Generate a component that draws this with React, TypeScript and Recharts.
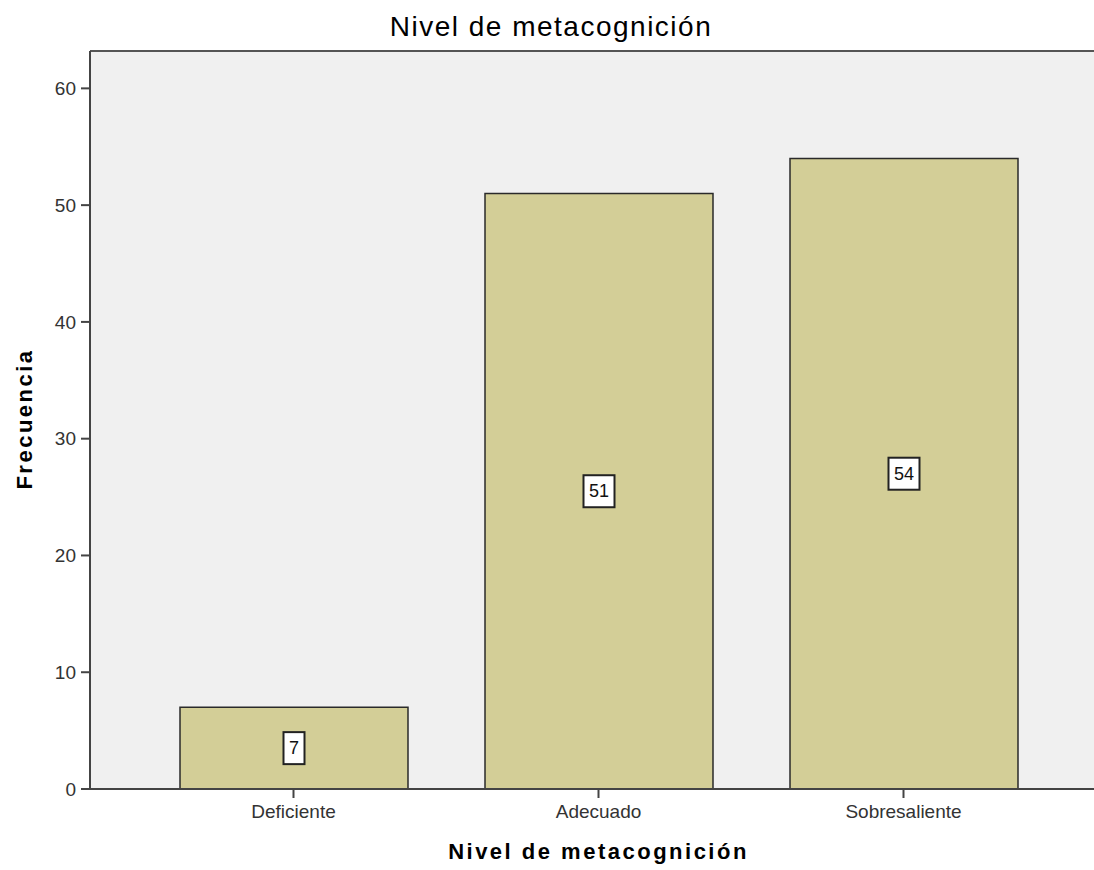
import { BarChart, Bar, XAxis, YAxis, CartesianGrid, LabelList, ReferenceLine } from "recharts"

const niveles = ["Deficiente", "Adecuado", "Sobresaliente"]
const frecuencias = [7, 51, 54]
const yTicks = [0, 10, 20, 30, 40, 50, 60]
const yMax = 63.2

const data = niveles.map((nivel, i) => ({ nivel, frecuencia: frecuencias[i] }))

const font = "Arial, 'Liberation Sans', sans-serif"
const axisColor = "#444"

// white boxed value label in the middle of each bar (SPSS style)
function ValueBox(props: any) {
  const { x, y, width, height, value } = props
  const cx = x + width / 2
  const cy = y + height / 2
  const w = String(value).length * 10 + 11
  const h = 32
  return (
    <g>
      <rect x={cx - w / 2} y={cy - h / 2} width={w} height={h} fill="#fff" stroke="#222" strokeWidth={2} />
      <text x={cx} y={cy} textAnchor="middle" dominantBaseline="central" fontSize={18} fontFamily={font} fill="#111">
        {value}
      </text>
    </g>
  )
}

function YTitle(p: any) {
  const vb = p.viewBox
  const cx = vb.x + 32
  const cy = vb.y + vb.height / 2 - 1
  return (
    <text x={cx} y={cy} transform={`rotate(-90 ${cx} ${cy})`} textAnchor="middle" fontSize={22} fontWeight="bold"
      letterSpacing={2.5} fontFamily={font} fill="#000">
      Frecuencia
    </text>
  )
}

function XTitle(p: any) {
  const vb = p.viewBox
  return (
    <text x={vb.x + vb.width / 2} y={vb.y + 70} textAnchor="middle" fontSize={22} fontWeight="bold"
      letterSpacing={2.5} fontFamily={font} fill="#000">
      Nivel de metacognición
    </text>
  )
}

export default function App() {
  return (
    <div style={{ position: "absolute", left: 0, top: 0, width: 1094, height: 870, overflow: "hidden", background: "#fff" }}>
      <div style={{
        position: "absolute", left: 0, top: 13, width: 1102, textAlign: "center",
        fontFamily: font, fontSize: 28, lineHeight: "28px", letterSpacing: 1.5, color: "#000",
      }}>
        Nivel de metacognición
      </div>
      <BarChart width={1120} height={870} data={data} margin={{ top: 51, right: 13, bottom: 0, left: 0 }}>
        <CartesianGrid fill="#f0f0f0" fillOpacity={1} horizontal={false} vertical={false} />
        <ReferenceLine y={yMax} stroke="#555" strokeWidth={2} />
        <XAxis
          dataKey="nivel"
          height={81}
          padding={{ left: 51, right: 51 }}
          tickSize={9}
          tickMargin={7}
          axisLine={{ stroke: axisColor, strokeWidth: 2 }}
          tickLine={{ stroke: axisColor, strokeWidth: 2 }}
          tick={{ fontSize: 19, fill: "#333", fontFamily: font }}
          label={{ content: XTitle }}
        />
        <YAxis
          width={90}
          type="number"
          domain={[0, yMax]}
          ticks={yTicks}
          tickSize={9}
          tickMargin={5}
          axisLine={{ stroke: axisColor, strokeWidth: 2 }}
          tickLine={{ stroke: axisColor, strokeWidth: 2 }}
          tick={{ fontSize: 19, fill: "#333", fontFamily: font }}
          label={{ content: YTitle }}
        />
        <Bar dataKey="frecuencia" fill="#d3ce97" stroke="#2a2a2a" strokeWidth={1.5} barSize={228} isAnimationActive={false}>
          <LabelList dataKey="frecuencia" content={ValueBox} />
        </Bar>
      </BarChart>
    </div>
  )
}
